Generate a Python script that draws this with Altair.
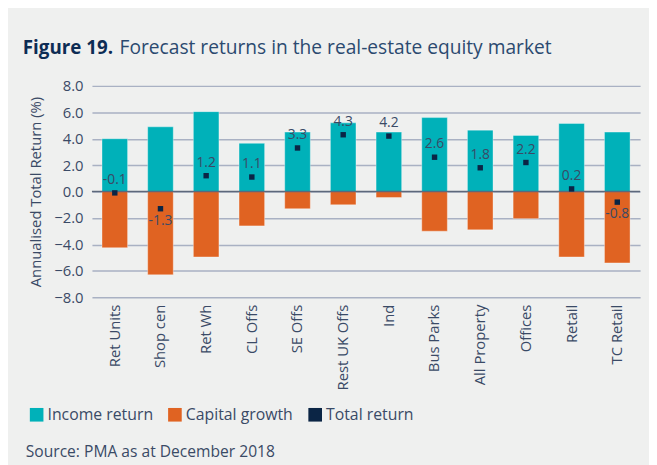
import altair as alt
import pandas as pd

categories = ["Ret Units", "Shop cen", "Ret Wh", "CL Offs", "SE Offs", "Rest UK Offs",
              "Ind", "Bus Parks", "All Property", "Offices", "Retail", "TC Retail"]
income = [4.0, 4.9, 6.05, 3.65, 4.5, 5.2, 4.5, 5.6, 4.65, 4.25, 5.15, 4.5]
capital = [-4.25, -6.3, -4.95, -2.6, -1.3, -1.0, -0.45, -3.0, -2.9, -2.05, -4.95, -5.4]
total = [-0.1, -1.3, 1.2, 1.1, 3.3, 4.3, 4.2, 2.6, 1.8, 2.2, 0.2, -0.8]

series_names = ["Income return", "Capital growth", "Total return"]
series_colors = ["#00b1b9", "#e06322", "#0b2545"]
y_ticks = [-8, -6, -4, -2, 0, 2, 4, 6, 8]

FONT = "Open Sans"
TXT = "#3a4a66"

bars = pd.DataFrame({
    "cat": categories * 2,
    "series": ["Income return"] * len(categories) + ["Capital growth"] * len(categories),
    "value": income + capital,
})
tot = pd.DataFrame({"cat": categories, "series": "Total return", "value": total,
                    "label": [f"{v:.1f}" for v in total]})

x = alt.X("cat:N", sort=categories, title=None,
          scale=alt.Scale(paddingInner=0.44, paddingOuter=0.22),
          axis=alt.Axis(labelAngle=270, labelAlign="right", labelBaseline="middle",
                        labelFontSize=15, labelColor=TXT, labelFont=FONT, labelPadding=7,
                        ticks=False, domain=False, grid=False))
yscale = alt.Scale(domain=[-8, 8], nice=False)
yaxis = alt.Axis(values=y_ticks, format=".1f", labelOverlap=False, tickCount=9,
                 labelFontSize=15, labelColor=TXT, labelFont=FONT, labelPadding=9,
                 ticks=False, domain=False, grid=True, gridColor="#a9b1c3",
                 gridWidth=1.5, titleFontSize=15, titleFont=FONT,
                 titleFontWeight="normal", titleColor=TXT, titlePadding=10)
YTITLE = "Annualised Total Return (%)"
y = alt.Y("value:Q", title=YTITLE, scale=yscale, axis=yaxis)
color = alt.Color("series:N", scale=alt.Scale(domain=series_names, range=series_colors),
                  legend=alt.Legend(title=None, orient="none", legendX=-64, legendY=325,
                                    direction="horizontal", symbolType="square",
                                    symbolSize=190, symbolStrokeWidth=0, labelFontSize=16,
                                    labelFont=FONT, labelColor=TXT, labelOffset=3,
                                    columnPadding=14, symbolOpacity=1))

bar_layer = alt.Chart(bars).mark_bar(stroke="white", strokeOpacity=0.35, strokeWidth=1).encode(
    x=x, y=y, color=color)

zero = alt.Chart(pd.DataFrame({"value": [0]})).mark_rule(color="#5d687b", strokeWidth=1.6).encode(
    y=y)

pts = alt.Chart(tot).mark_point(shape="square", filled=True, size=30, opacity=1).encode(
    x=x, y=y, color=color)

lab_above = alt.Chart(tot).transform_filter("datum.value > -0.5").mark_text(
    dy=-9, fontSize=14, font=FONT, color=TXT, baseline="alphabetic").encode(
    x=x, y=y, text="label:N")
lab_below = alt.Chart(tot).transform_filter("datum.value <= -0.5").mark_text(
    dy=16, fontSize=14, font=FONT, color=TXT, baseline="alphabetic").encode(
    x=x, y=y, text="label:N")

title_bold = alt.Chart(pd.DataFrame({"t": ["Figure 19."]})).mark_text(
    font=FONT, fontSize=19, fontWeight="bold", color="#0d2c54", align="left",
    baseline="alphabetic").encode(text="t:N", x=alt.value(-70), y=alt.value(-32))
title_rest = alt.Chart(pd.DataFrame({"t": ["Forecast returns in the real-estate equity market"]})).mark_text(
    font=FONT, fontSize=19.4, color="#2b4a70", align="left",
    baseline="alphabetic").encode(text="t:N", x=alt.value(28), y=alt.value(-32))
source = alt.Chart(pd.DataFrame({"t": ["Source: PMA as at December 2018"]})).mark_text(
    font=FONT, fontSize=15.8, color=TXT, align="left",
    baseline="alphabetic").encode(text="t:N", x=alt.value(-67), y=alt.value(376))

chart = alt.layer(bar_layer, zero, pts, lab_above, lab_below, title_bold, title_rest, source).properties(
    width=555, height=214,
    autosize=alt.AutoSizeParams(type="none"),
    padding={"left": 85, "top": 76, "right": 9, "bottom": 167},
    background="#eff0ef",
).configure_view(stroke=None)

chart.save("out.html", embed_options={"renderer": "svg", "actions": False})
